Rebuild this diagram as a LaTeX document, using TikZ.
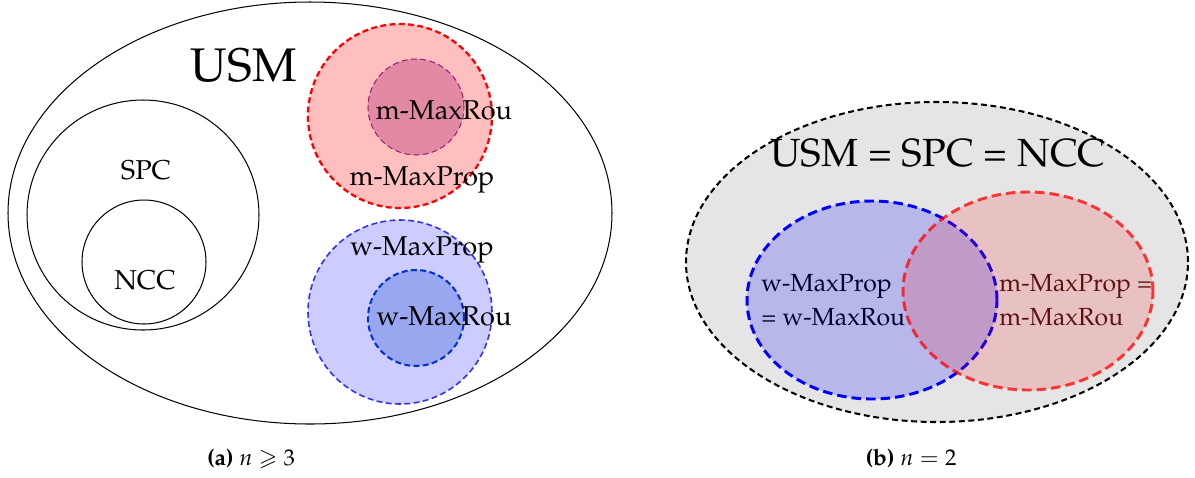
\documentclass[tikz,border=0pt]{standalone}
\usepackage[T1]{fontenc}
\usepackage{amssymb}
\usepackage{mathpazo}
\usetikzlibrary{shapes.geometric}
\definecolor{redfillA}{RGB}{255,191,191}
\definecolor{roufillA}{RGB}{226,138,164}
\definecolor{rouborderA}{RGB}{150,30,120}
\definecolor{bluefillA}{RGB}{204,204,255}
\definecolor{blueborderA}{RGB}{50,50,240}
\definecolor{wroufillA}{RGB}{153,166,240}
\definecolor{wrouborderA}{RGB}{0,50,200}
\definecolor{grayfillB}{RGB}{229,229,229}
\definecolor{redtextB}{RGB}{65,22,22}
\tikzset{
  x=0.44pt, y=-0.44pt,
  thinline/.style={draw=black, line width=0.45pt},
  lbl/.style={inner sep=0pt, font=\normalsize},
  lblA/.style={inner sep=0pt, font=\large},
  lblB/.style={inner sep=0pt, align=left, anchor=west, font=\fontsize{10.9}{15}\selectfont},
  dashA/.style={dash pattern=on 2.6pt off 1.5pt},
  dashB/.style={dash pattern=on 4.2pt off 2.2pt},
  dashC/.style={dash pattern=on 2.6pt off 1.6pt},
}
\begin{document}
\begin{tikzpicture}
\useasboundingbox (0,0) rectangle (1195,477);
% ---------- (a) ----------
\path[thinline] (310,213) ellipse [x radius=302*0.44pt, y radius=211*0.44pt];
\path[thinline] (143,215) ellipse [x radius=116*0.44pt, y radius=115*0.44pt];
\path[thinline] (144,262) ellipse [x radius=62*0.44pt, y radius=62*0.44pt];
\path[fill=redfillA, draw=red, line width=1pt, dashA] (400,116) circle [radius=92*0.44pt];
\path[fill=roufillA, draw=rouborderA, line width=0.45pt, dashA] (416,107) circle [radius=48*0.44pt];
\path[fill=bluefillA, draw=blueborderA, line width=0.7pt, dashA] (400,312) circle [radius=92*0.44pt];
\path[fill=wroufillA, draw=wrouborderA, line width=0.9pt, dashA] (416,318) circle [radius=48*0.44pt];
\node[lbl, font=\huge] (usm) at (244,66) {USM};
\node[lblA] (spc) at (146,170) {SPC};
\node[lblA] (ncc) at (145,280) {NCC};
\node[lblA] (mrou) at (444,110) {m-MaxRou};
\node[lblA] (mprop) at (422,180) {m-MaxProp};
\node[lblA] (wprop) at (422,250) {w-MaxProp};
\node[lblA] (wrou) at (444,316) {w-MaxRou};
% ---------- (b) ----------
\path[fill=grayfillB, draw=black, line width=0.9pt, dashC] (937,262) ellipse [x radius=251*0.44pt, y radius=160*0.44pt];
\node[lbl, font=\LARGE] (eq) at (938,153) {USM = SPC = NCC};
\node[lblB] (wtext) at (761,300) {w-MaxProp\\= w-MaxRou};
\node[lblB, text=redtextB] (mtext) at (999,300) {m-MaxProp =\\m-MaxRou};
\path[fill=blue, fill opacity=0.2, draw=blue, line width=1.3pt, dashB] (872,300) ellipse [x radius=125*0.44pt, y radius=99*0.44pt];
\path[fill=red, fill opacity=0.15, draw=red, draw opacity=0.75, line width=1.3pt, dashB] (1028,291) ellipse [x radius=125*0.44pt, y radius=99*0.44pt];
% ---------- captions ----------
\node[lbl] (capa) at (251,459) {\textbf{(a)} $n \geqslant 3$};
\node[lbl] (capb) at (911,459) {\textbf{(b)} $n = 2$};
\end{tikzpicture}
\end{document}
